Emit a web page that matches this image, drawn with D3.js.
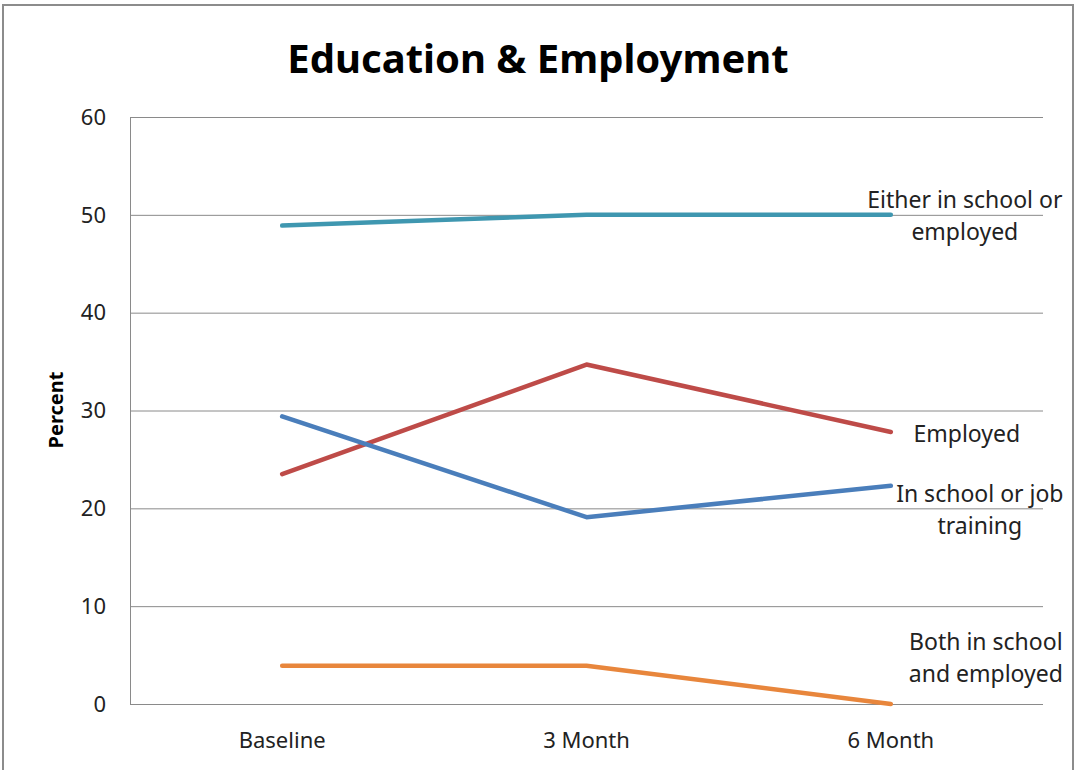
<!DOCTYPE html>
<html lang="en">
<head>
    <meta charset="UTF-8">
    <title>Education & Employment</title>
    <style>
        body { margin: 0; background: #fff; }
        svg { display: block; font-family: "Noto Sans", "Open Sans", sans-serif; }
    </style>
</head>
<body>
    <svg id="chart" width="1078" height="770"></svg>

    <script src="https://d3js.org/d3.v7.min.js"></script>
    <script>
        // categories and values
        const periods = ["Baseline", "3 Month", "6 Month"];
        const yTicks = [0, 10, 20, 30, 40, 50, 60];

        const eitherVals = [48.9, 50.0, 50.0];
        const employedVals = [23.5, 34.7, 27.8];
        const schoolVals = [29.4, 19.1, 22.3];
        const bothVals = [3.9, 3.9, 0.0];

        const seriesNames = ["Either in school or employed", "Employed", "In school or job training", "Both in school and employed"];
        const labelLines = [["Either in school or", "employed"], ["Employed"], ["In school or job", "training"], ["Both in school", "and employed"]];

        const series = [
            { name: seriesNames[0], values: eitherVals, color: "#3f97b0", lines: labelLines[0], dx: 74, dy: 1 },
            { name: seriesNames[1], values: employedVals, color: "#be4b48", lines: labelLines[1], dx: 76, dy: 2 },
            { name: seriesNames[2], values: schoolVals, color: "#4a7ebb", lines: labelLines[2], dx: 89, dy: 24 },
            { name: seriesNames[3], values: bothVals, color: "#e8863c", lines: labelLines[3], dx: 95, dy: -46 }
        ];

        const svg = d3.select("#chart");
        const margin = { left: 130, right: 35, top: 117, bottom: 66 };
        const width = 1078, height = 770;

        // outer chart frame
        svg.append("rect")
            .attr("x", 3).attr("y", 5)
            .attr("width", 1070).attr("height", 775)
            .attr("fill", "none")
            .attr("stroke", "#8c8c8c")
            .attr("stroke-width", 2);

        const x = d3.scalePoint()
            .domain(periods)
            .range([margin.left, width - margin.right])
            .padding(0.5);

        const y = d3.scaleLinear()
            .domain([0, 60])
            .range([height - margin.bottom, margin.top]);

        // horizontal gridlines
        svg.append("g")
            .selectAll("line")
            .data(yTicks)
            .join("line")
            .attr("x1", margin.left)
            .attr("x2", width - margin.right)
            .attr("y1", d => y(d) + 0.5)
            .attr("y2", d => y(d) + 0.5)
            .attr("stroke", "#8a8a8a")
            .attr("stroke-width", 1);

        // y axis line
        svg.append("line")
            .attr("x1", margin.left + 0.5).attr("x2", margin.left + 0.5)
            .attr("y1", y(60)).attr("y2", y(0))
            .attr("stroke", "#8a8a8a");

        // y tick labels
        svg.append("g")
            .selectAll("text")
            .data(yTicks)
            .join("text")
            .attr("x", 106)
            .attr("y", d => y(d))
            .attr("dy", "0.35em")
            .attr("text-anchor", "end")
            .attr("font-size", 22)
            .attr("fill", "#222")
            .text(d => d);

        // x tick labels
        svg.append("g")
            .selectAll("text")
            .data(periods)
            .join("text")
            .attr("x", d => x(d))
            .attr("y", 748)
            .attr("text-anchor", "middle")
            .attr("font-size", 22)
            .attr("fill", "#222")
            .text(d => d);

        // title
        svg.append("text")
            .attr("x", 538)
            .attr("y", 73)
            .attr("text-anchor", "middle")
            .attr("font-size", 40)
            .attr("font-weight", "bold")
            .attr("fill", "#000")
            .text("Education & Employment");

        // y axis title
        svg.append("text")
            .attr("transform", "translate(63,410) rotate(-90)")
            .attr("text-anchor", "middle")
            .attr("font-size", 20)
            .attr("font-weight", "bold")
            .attr("fill", "#000")
            .text("Percent");

        const line = d3.line()
            .x((d, i) => x(periods[i]))
            .y(d => y(d));

        svg.append("g")
            .selectAll("path")
            .data(series)
            .join("path")
            .attr("fill", "none")
            .attr("stroke", d => d.color)
            .attr("stroke-width", 4.5)
            .attr("stroke-linecap", "round")
            .attr("stroke-linejoin", "round")
            .attr("d", d => line(d.values));

        // end labels next to the last point
        const last = periods[periods.length - 1];
        series.forEach(s => {
            const cx = x(last) + s.dx;
            const cy = y(s.values[s.values.length - 1]) + s.dy;
            const lh = 32;
            const t = svg.append("text")
                .attr("text-anchor", "middle")
                .attr("font-size", 23)
                .attr("fill", "#222");
            s.lines.forEach((ln, i) => {
                t.append("tspan")
                    .attr("x", cx)
                    .attr("y", cy + (i - (s.lines.length - 1) / 2) * lh)
                    .attr("dy", "0.35em")
                    .text(ln);
            });
        });
    </script>
</body>
</html>
